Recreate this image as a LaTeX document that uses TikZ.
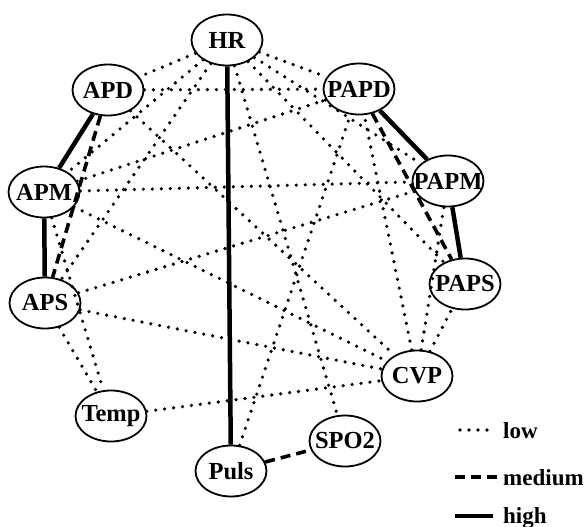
\documentclass[tikz,border=0pt]{standalone}
\usepackage{fontspec}
\setmainfont{Liberation Serif}
\usetikzlibrary{shapes.geometric}
\newcommand{\vname}[1]{\makebox[0pt]{#1}}
\begin{document}
\begin{tikzpicture}[x=1pt, y=-1pt,
        var/.style = {draw, ellipse, line width=1.8pt, minimum width=71pt, minimum height=51pt, inner sep=0pt, font=\bfseries\fontsize{24.5}{24.5}\selectfont},
        low/.style = {line width=3.6pt, line cap=round, dash pattern=on 0pt off 9pt},
        medium/.style = {line width=3.6pt, dash pattern=on 10pt off 6pt},
        high/.style = {line width=4.5pt},
        key/.style = {anchor=base west, inner sep=0pt, font=\bfseries\fontsize{23}{23}\selectfont}]
        \useasboundingbox (0,0) rectangle (586,527);
        \node[var] (HR) at (227,40) {\vname{HR}};
        \node[var] (APD) at (108,90) {\vname{APD}};
        \node[var] (APM) at (44,192) {\vname{APM}};
        \node[var] (APS) at (45,303) {\vname{APS}};
        \node[var] (Temp) at (111,416) {\vname{Temp}};
        \node[var] (Puls) at (231,471) {\vname{Puls}};
        \node[var] (SPO2) at (345,441) {\vname{SPO2}};
        \node[var] (CVP) at (417,376) {\vname{CVP}};
        \node[var] (PAPS) at (465,284) {\vname{PAPS}};
        \node[var] (PAPM) at (448,181) {\vname{PAPM}};
        \node[var] (PAPD) at (359,89) {\vname{PAPD}};
        % high
        \draw[high] (APD) -- (APM);
        \draw[high] (APM) -- (APS);
        \draw[high] (HR) -- (Puls);
        \draw[high] (PAPD) -- (PAPM);
        \draw[high] (PAPM) -- (PAPS);
        % medium
        \draw[medium] (APD) -- (APS);
        \draw[medium] (PAPD) -- (PAPS);
        \draw[medium] (Puls) -- (SPO2);
        % low
        \draw[low] (HR) -- (APD);
        \draw[low] (HR) -- (PAPD);
        \draw[low] (HR) -- (APM);
        \draw[low] (HR) -- (APS);
        \draw[low] (HR) -- (SPO2);
        \draw[low] (HR) -- (PAPM);
        \draw[low] (HR) -- (PAPS);
        \draw[low] (APD) -- (PAPD);
        \draw[low] (APD) -- (CVP);
        \draw[low] (APM) -- (PAPD);
        \draw[low] (APM) -- (PAPM);
        \draw[low] (APM) -- (CVP);
        \draw[low] (APM) -- (Temp);
        \draw[low] (APS) -- (PAPM);
        \draw[low] (APS) -- (CVP);
        \draw[low] (APS) -- (Temp);
        \draw[low] (Temp) -- (CVP);
        \draw[low] (Puls) -- (PAPD);
        \draw[low] (CVP) -- (PAPD);
        \draw[low] (CVP) -- (PAPM);
        \draw[low] (CVP) -- (PAPS);
        % key
        \node[key] (lowtxt) at (503,438) {low};
        \node[key] (medtxt) at (503,485) {medium};
        \node[key] (hightxt) at (503,523) {high};
        \coordinate (low1) at (460,430);
        \coordinate (low2) at (488,430);
        \coordinate (med1) at (455,477);
        \coordinate (med2) at (497,477);
        \coordinate (high1) at (455,516);
        \coordinate (high2) at (493,516);
        \draw[low] (low1) -- (low2);
        \draw[medium] (med1) -- (med2);
        \draw[high] (high1) -- (high2);
\end{tikzpicture}
\end{document}
